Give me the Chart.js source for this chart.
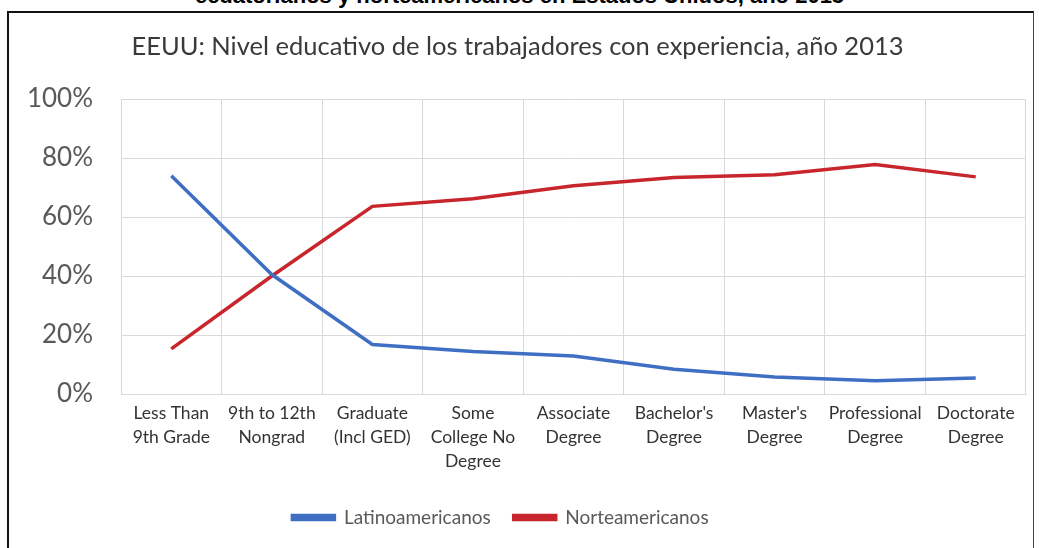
<!DOCTYPE html>
<html>
<head>
<meta charset="utf-8">
<script src="https://cdn.jsdelivr.net/npm/chart.js@4"></script>
<style>
    html, body { margin: 0; padding: 0; background: #fff; overflow: hidden; }
    body { width: 1039px; height: 548px; position: relative; }
    .header {
        position: absolute; left: 0; top: -17px; width: 1039px;
        text-align: center; font: bold 22px "Liberation Sans", Arial, sans-serif; color: #000;
    }
    .frame {
        position: absolute; left: 7px; top: 11px; width: 1024px; height: 537px;
        border-left: 2px solid #111; border-top: 2px solid #111; border-right: 1px solid #444;
    }
    .frame canvas { display: block; }
</style>
</head>
<body>
<div class="header">ecuatorianos y norteamericanos en Estados Unidos, año 2013</div>
<div class="frame"><canvas id="chart" width="1024" height="535"></canvas></div>
<script>
// Categories (education level) and share of experienced workers, in %
const categories = [
    ['Less Than', '9th Grade'],
    ['9th to 12th', 'Nongrad'],
    ['Graduate', '(Incl GED)'],
    ['Some', 'College No', 'Degree'],
    ['Associate', 'Degree'],
    ["Bachelor's", 'Degree'],
    ["Master's", 'Degree'],
    ['Professional', 'Degree'],
    ['Doctorate', 'Degree'],
];
const latinoamericanos = [74, 40.5, 16.8, 14.4, 12.9, 8.4, 5.8, 4.5, 5.4];
const norteamericanos = [15.3, 40, 63.6, 66.2, 70.6, 73.4, 74.3, 77.8, 73.6];
const yTicks = [0, 20, 40, 60, 80, 100];

const titleText = 'EEUU: Nivel educativo de los trabajadores con experiencia, año 2013';

const gridColor = '#d9d9d9';

// The legend in the original sits a bit left of the centre
const legendShift = {
    id: 'legendShift',
    afterLayout(chart) {
        chart.legend.left -= 17;
        chart.legend.right -= 17;
    }
};

new Chart(document.getElementById('chart'), {
    type: 'line',
    data: {
        labels: categories,
        datasets: [{
            label: 'Latinoamericanos',
            data: latinoamericanos,
            borderColor: '#3f6fc3',
            backgroundColor: '#3f6fc3',
            borderWidth: 3.5,
            pointRadius: 0,
            tension: 0,
        }, {
            label: 'Norteamericanos',
            data: norteamericanos,
            borderColor: '#c8262c',
            backgroundColor: '#c8262c',
            borderWidth: 3.5,
            pointRadius: 0,
            tension: 0,
        }]
    },
    plugins: [legendShift],
    options: {
        responsive: false,
        animation: false,
        layout: {
            padding: { left: 0, right: 7, top: 0, bottom: 11 }
        },
        plugins: {
            title: {
                display: true,
                text: titleText,
                color: '#3a3a3a',
                font: { family: 'Lato', size: 25.5, weight: 'normal', lineHeight: 1.2 },
                padding: { top: 18.7, bottom: 36.7 },
            },
            legend: {
                position: 'bottom',
                labels: {
                    color: '#595959',
                    font: { family: 'Lato', size: 19 },
                    boxWidth: 42,
                    boxHeight: 4,
                    padding: 23,
                }
            },
            tooltip: { enabled: false },
        },
        scales: {
            x: {
                offset: true,
                grid: { color: gridColor, offset: true, drawTicks: false },
                border: { color: gridColor },
                ticks: {
                    color: '#333333',
                    font: { family: 'Lato', size: 17.5, lineHeight: 1.35 },
                    padding: 8,
                    autoSkip: false,
                    maxRotation: 0,
                },
                afterFit: (scale) => { scale.height = 91; },
            },
            y: {
                min: 0,
                max: 100,
                grid: { color: gridColor, drawTicks: false },
                border: { display: false },
                afterBuildTicks: (scale) => { scale.ticks = yTicks.map(v => ({ value: v })); },
                ticks: {
                    color: '#595959',
                    font: { family: 'Lato', size: 26 },
                    padding: 28,
                    callback: (value) => value + '%',
                },
                afterFit: (scale) => { scale.width = 112; },
            }
        }
    }
});
</script>
</body>
</html>
